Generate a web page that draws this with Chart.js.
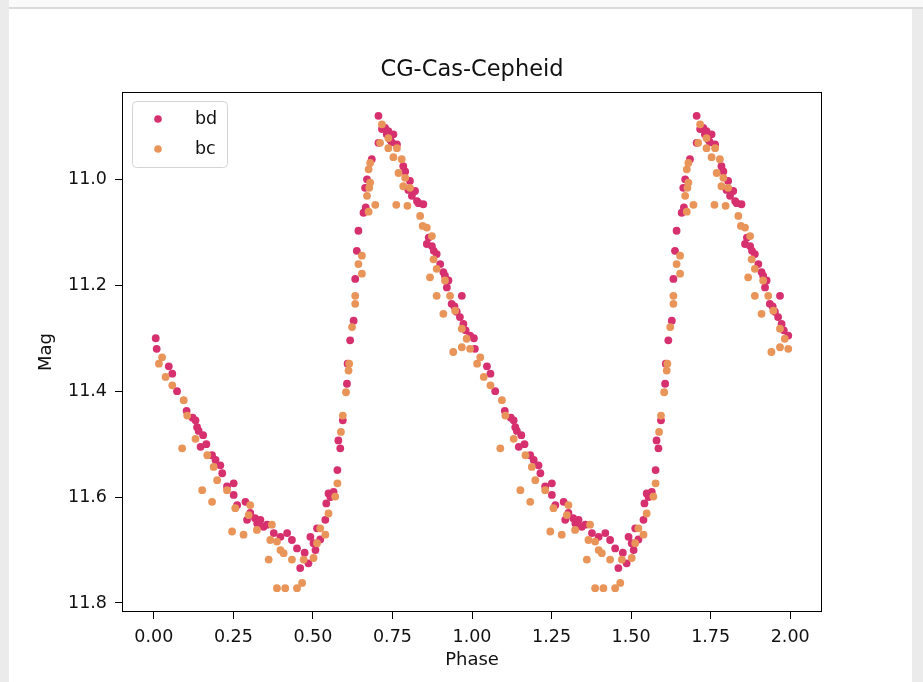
<!DOCTYPE html>
<html>
<head>
<meta charset="utf-8">
<title>CG-Cas-Cepheid</title>
<script src="https://cdn.jsdelivr.net/npm/chart.js@4/dist/chart.umd.min.js"></script>
<style>
  html, body { margin: 0; padding: 0; width: 923px; height: 682px; overflow: hidden; background: #fff; }
  .side-l { position: absolute; left: 0; top: 0; width: 9px; height: 682px; background: #ebebeb; }
  .side-r { position: absolute; left: 912px; top: 9px; width: 11px; height: 673px; background: #ebebeb; }
  .topbar { position: absolute; left: 9px; top: 0; width: 914px; height: 7px; background: #fafafa; border-bottom: 2px solid #dadada; }
  #lc { position: absolute; left: 0; top: 0; }
</style>
</head>
<body>
<div class="side-l"></div>
<div class="topbar"></div>
<div class="side-r"></div>
<canvas id="lc" width="923" height="682"></canvas>
<script>
// folded light curve, one cycle per band (drawn twice: phase and phase + 1)
const bdPhase = [0.006, 0.009, 0.047, 0.058, 0.073, 0.103, 0.122, 0.131, 0.136, 0.141, 0.147, 0.155, 0.165, 0.183, 0.194,
  0.209, 0.215, 0.230, 0.251, 0.251, 0.262, 0.288, 0.293, 0.303, 0.318, 0.325, 0.335, 0.345, 0.356, 0.377, 0.398, 0.419,
  0.434, 0.450, 0.460, 0.474, 0.486, 0.492, 0.502, 0.508, 0.513, 0.523, 0.539, 0.542, 0.549, 0.555, 0.565, 0.577, 0.580,
  0.586, 0.594, 0.607, 0.609, 0.617, 0.628, 0.633, 0.638, 0.643, 0.659, 0.664, 0.666, 0.670, 0.685, 0.706, 0.706, 0.717,
  0.727, 0.732, 0.737, 0.743, 0.748, 0.753, 0.764, 0.784, 0.790, 0.800, 0.805, 0.811, 0.821, 0.827, 0.832, 0.847, 0.858,
  0.864, 0.874, 0.880, 0.889, 0.900, 0.910, 0.915, 0.921, 0.926, 0.936, 0.945, 0.952, 0.962, 0.968, 0.973, 0.980, 0.994];
const bdMag = [11.300, 11.320, 11.353, 11.367, 11.400, 11.437, 11.450, 11.455, 11.468, 11.475, 11.505, 11.483, 11.500, 11.521, 11.530,
  11.540, 11.555, 11.580, 11.574, 11.596, 11.615, 11.609, 11.643, 11.630, 11.640, 11.650, 11.643, 11.656, 11.652, 11.668, 11.675, 11.668,
  11.681, 11.697, 11.734, 11.705, 11.725, 11.675, 11.687, 11.700, 11.659, 11.680, 11.643, 11.612, 11.593, 11.600, 11.590, 11.549, 11.493,
  11.508, 11.455, 11.386, 11.348, 11.304, 11.267, 11.188, 11.135, 11.097, 11.063, 11.016, 11.053, 11.000, 10.962, 10.880, 10.931, 10.905,
  10.903, 10.915, 10.909, 10.925, 10.930, 10.915, 10.934, 10.975, 10.985, 11.020, 11.003, 11.031, 11.022, 11.041, 11.045, 11.047, 11.122,
  11.110, 11.126, 11.135, 11.141, 11.160, 11.175, 11.182, 11.204, 11.191, 11.235, 11.240, 11.250, 11.260, 11.220, 11.273, 11.285, 11.295];

const bcPhase = [0.016, 0.026, 0.037, 0.058, 0.089, 0.094, 0.105, 0.131, 0.152, 0.168, 0.183, 0.188, 0.199, 0.230, 0.246,
  0.256, 0.282, 0.298, 0.303, 0.324, 0.361, 0.366, 0.371, 0.387, 0.387, 0.398, 0.408, 0.413, 0.434, 0.450, 0.466, 0.471,
  0.502, 0.513, 0.523, 0.539, 0.549, 0.570, 0.577, 0.588, 0.594, 0.604, 0.612, 0.614, 0.623, 0.633, 0.633, 0.643, 0.654,
  0.654, 0.670, 0.675, 0.675, 0.677, 0.680, 0.680, 0.696, 0.711, 0.717, 0.737, 0.737, 0.753, 0.762, 0.764, 0.769, 0.779,
  0.784, 0.790, 0.797, 0.805, 0.837, 0.845, 0.858, 0.868, 0.874, 0.879, 0.889, 0.889, 0.910, 0.915, 0.931, 0.941, 0.947,
  0.968, 0.968, 0.983, 0.994];
const bcMag = [11.348, 11.336, 11.373, 11.389, 11.508, 11.417, 11.446, 11.490, 11.587, 11.521, 11.609, 11.543, 11.568, 11.587, 11.665,
  11.621, 11.671, 11.634, 11.615, 11.662, 11.718, 11.681, 11.652, 11.684, 11.772, 11.700, 11.706, 11.772, 11.718, 11.772, 11.762, 11.718,
  11.715, 11.687, 11.659, 11.671, 11.631, 11.599, 11.574, 11.477, 11.446, 11.402, 11.361, 11.348, 11.279, 11.220, 11.235, 11.160, 11.144,
  11.178, 11.031, 11.061, 10.981, 11.016, 10.969, 11.006, 11.048, 10.931, 10.896, 10.922, 10.941, 10.958, 11.048, 10.941, 10.988, 10.962,
  11.013, 10.997, 11.050, 11.016, 11.069, 11.088, 11.091, 11.185, 11.107, 11.151, 11.169, 11.220, 11.254, 11.191, 11.220, 11.326, 11.248,
  11.282, 11.317, 11.301, 11.320];

const cycles = [0, 1];
const xTicks = [0, 0.25, 0.5, 0.75, 1, 1.25, 1.5, 1.75, 2];
const yTicks = [11.0, 11.2, 11.4, 11.6, 11.8];

const FONT = 'DejaVu Sans';
const INK = '#111';

function folded(phase, mag) {
  const pts = [];
  cycles.forEach(c => phase.forEach((p, i) => pts.push({ x: p + c, y: mag[i] })));
  return pts;
}

// title, axis labels, box and matplotlib-ish legend
const decor = {
  id: 'decor',
  afterDatasetsDraw(chart) {
    const { ctx, chartArea: a } = chart;
    ctx.save();
    ctx.strokeStyle = '#000';
    ctx.lineWidth = 1;
    ctx.strokeRect(a.left + 0.5, a.top + 0.5, a.right - a.left - 1, a.bottom - a.top - 1);
    ctx.restore();
  },
  afterDraw(chart) {
    const { ctx, chartArea: a } = chart;
    const cx = (a.left + a.right) / 2;
    ctx.save();
    ctx.fillStyle = INK;
    ctx.textAlign = 'center';
    ctx.textBaseline = 'middle';
    ctx.font = `22.5px "${FONT}"`;
    ctx.fillText('CG-Cas-Cepheid', cx, 70);
    ctx.font = `18px "${FONT}"`;
    ctx.fillText('Phase', cx, 660);
    ctx.translate(46, (a.top + a.bottom) / 2);
    ctx.rotate(-Math.PI / 2);
    ctx.fillText('Mag', 0, 0);
    ctx.restore();

    // legend box
    ctx.save();
    ctx.beginPath();
    ctx.roundRect(132.5, 101.5, 95, 66, 4);
    ctx.fillStyle = 'rgba(255,255,255,0.8)';
    ctx.fill();
    ctx.strokeStyle = '#d4d4d4';
    ctx.lineWidth = 1;
    ctx.stroke();
    ctx.font = `17.5px "${FONT}"`;
    ctx.textAlign = 'left';
    ctx.textBaseline = 'middle';
    const rows = chart.data.datasets.slice().sort((p, q) => q.order - p.order);
    rows.forEach((ds, i) => {
      const y = 119 + i * 30;
      ctx.beginPath();
      ctx.arc(158, y, 3.8, 0, Math.PI * 2);
      ctx.fillStyle = ds.backgroundColor;
      ctx.fill();
      ctx.fillStyle = INK;
      ctx.fillText(ds.label, 195, y);
    });
    ctx.restore();
  }
};

const tickStyle = { font: { family: FONT, size: 17.5 }, color: INK, padding: 8, autoSkip: false, maxRotation: 0 };
const gridStyle = { display: true, drawOnChartArea: false, drawTicks: true, tickLength: 7, color: '#000', lineWidth: 1 };

new Chart(document.getElementById('lc'), {
  type: 'scatter',
  data: {
    datasets: [
      { label: 'bd', data: folded(bdPhase, bdMag), backgroundColor: '#d6306f', order: 1 },
      { label: 'bc', data: folded(bcPhase, bcMag), backgroundColor: '#e9955a', order: 0 }
    ]
  },
  options: {
    responsive: false,
    animation: false,
    events: [],
    devicePixelRatio: 1,
    layout: { padding: { left: 0, right: 101, top: 92, bottom: 0 } },
    elements: { point: { radius: 3.9, hoverRadius: 3.9, borderWidth: 0 } },
    plugins: { legend: { display: false }, title: { display: false }, tooltip: { enabled: false } },
    scales: {
      x: {
        type: 'linear', min: -0.1, max: 2.1,
        grid: gridStyle, border: { display: false },
        ticks: { ...tickStyle, callback: v => v.toFixed(2) },
        afterBuildTicks: s => { s.ticks = xTicks.map(v => ({ value: v })); },
        afterFit: s => { s.height = 70; }
      },
      y: {
        type: 'linear', reverse: true, min: 10.835, max: 11.817,
        grid: gridStyle, border: { display: false },
        ticks: { ...tickStyle, callback: v => v.toFixed(1) },
        afterBuildTicks: s => { s.ticks = yTicks.map(v => ({ value: v })); },
        afterFit: s => { s.width = 122; }
      }
    }
  },
  plugins: [decor]
});
</script>
</body>
</html>
